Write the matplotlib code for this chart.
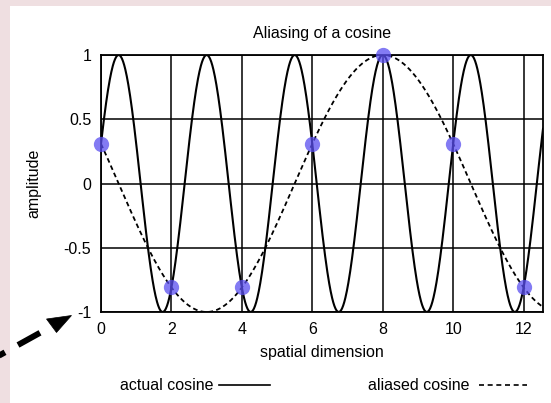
import numpy as np
import matplotlib.pyplot as plt
from matplotlib.lines import Line2D
from matplotlib.patches import Rectangle, Polygon

plt.rcParams['font.family'] = ['Liberation Sans', 'DejaVu Sans']

# signal parameters (cycles per unit of distance)
actual_freq = 0.4
aliased_freq = 0.1
peak_pos = 8.0            # both waves peak here
sample_x = [0, 2, 4, 6, 8, 10, 12]

x_ticks = [0, 2, 4, 6, 8, 10, 12]
y_ticks = [-1, -0.5, 0, 0.5, 1]
y_ticklabels = ['-1', '-0.5', '0', '0.5', '1']

x = np.linspace(0, 12.55, 1200)
actual = np.cos(2 * np.pi * actual_freq * (x - peak_pos))
aliased = np.cos(2 * np.pi * aliased_freq * (x - peak_pos))
samples = np.cos(2 * np.pi * actual_freq * (np.array(sample_x) - peak_pos))

W, H = 551, 403
fig = plt.figure(figsize=(W / 100, H / 100), dpi=100)
fig.patch.set_facecolor('#efdfe1')
fig.add_artist(Rectangle((10 / W, 0), 1, (H - 6) / H, transform=fig.transFigure,
                         facecolor='white', edgecolor='none', zorder=0))


def px(px_x, px_y):
    # pixel position measured from the top-left corner -> figure fraction
    return px_x / W, 1 - px_y / H


ax = fig.add_axes([101 / W, (H - 312) / H, 442 / W, 257 / H])
ax.plot(x, actual, color='black', lw=1.5, zorder=3)
ax.plot(x, aliased, color='black', lw=1.3, linestyle=(0, (2.6, 1.8)), zorder=3)
ax.plot(sample_x, samples, 'o', color='#5a4ff0', alpha=0.75, markersize=11,
        markeredgewidth=0, zorder=4, clip_on=False)

ax.set_xlim(0, 12.55)
ax.set_ylim(-1, 1)
ax.set_xticks(x_ticks)
ax.set_yticks(y_ticks)
ax.set_yticklabels(y_ticklabels)
ax.grid(True, color='black', lw=1.1)
ax.tick_params(length=0, labelsize=11.5, pad=7, colors='black')
for s in ax.spines.values():
    s.set_linewidth(1.3)

ax.set_title('Aliasing of a cosine', fontsize=11.5, pad=12)
ax.set_xlabel('spatial dimension', fontsize=11.5, labelpad=6)
ax.set_ylabel('amplitude', fontsize=11.5, labelpad=16)

# key below the plot
ly = 1 - 385 / H
fig.text(213 / W, ly, 'actual cosine', ha='right', va='center', fontsize=11.5)
fig.add_artist(Line2D([219 / W, 270 / W], [ly, ly], color='black', lw=1.2))
fig.text(469 / W, ly, 'aliased cosine', ha='right', va='center', fontsize=11.5)
fig.add_artist(Line2D([479 / W, 527 / W], [ly, ly], color='black', lw=1.2,
                      linestyle=(0, (3, 2.2))))

# dashed pointer in the lower left corner: two thick dashes and a head
for (xa, ya), (xb, yb) in [((-17, 364.5), (5, 352.3)),
                           ((18, 345.0), (40, 332.8))]:
    a, b = px(xa, ya), px(xb, yb)
    fig.add_artist(Line2D([a[0], b[0]], [a[1], b[1]], color='black', lw=4.3,
                          solid_capstyle='butt', zorder=5))
fig.add_artist(Polygon([px(46.5, 319), px(71.5, 315.5), px(56.5, 332.5)],
                       closed=True, transform=fig.transFigure,
                       facecolor='black', edgecolor='black', lw=0.5, zorder=5))

fig.savefig('out.png', dpi=100)
